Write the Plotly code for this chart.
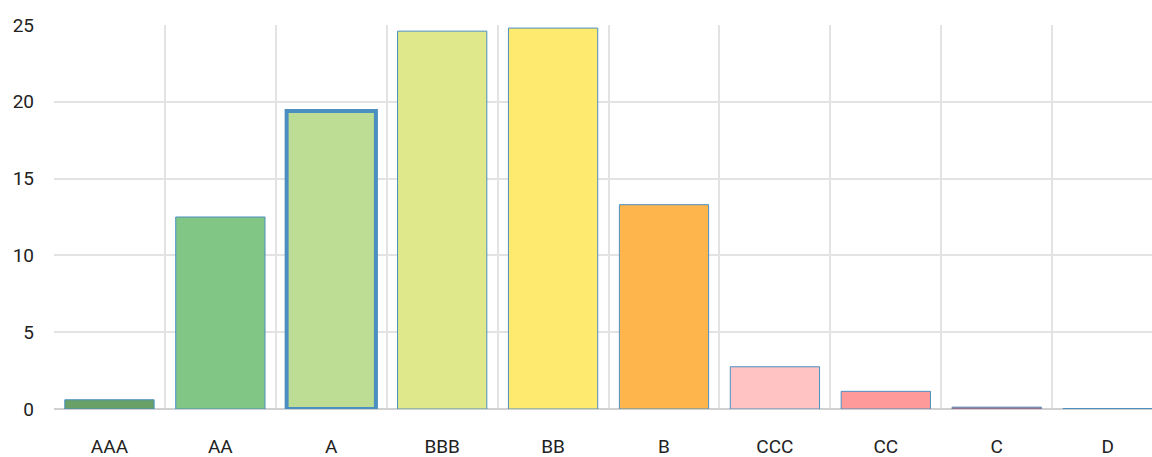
import plotly.graph_objects as go

categories = ["AAA", "AA", "A", "BBB", "BB", "B", "CCC", "CC", "C", "D"]
values = [0.6, 12.5, 19.4, 24.6, 24.8, 13.3, 2.75, 1.15, 0.12, 0.03]
fill_colors = ["#68a068", "#81c684", "#bddd94", "#dfe88b", "#feea6f",
               "#feb54b", "#ffc3c3", "#ff9a9a", "#e0505a", "#4b8fc0"]
line_colors = ["#4b8fc0"] * 10
line_widths = [1, 1, 4, 1, 1, 1, 1, 1, 1, 1]
y_ticks = [0, 5, 10, 15, 20, 25]

font_family = "Roboto, sans-serif"

fig = go.Figure(go.Bar(
    x=categories,
    y=values,
    marker=dict(color=fill_colors, line=dict(color=line_colors, width=line_widths)),
    hoverinfo="x+y",
))

fig.update_layout(
    width=1152, height=457,
    margin=dict(l=54, r=0, t=25, b=48),
    paper_bgcolor="white", plot_bgcolor="white",
    bargap=0.195,
    showlegend=False,
    font=dict(family=font_family, size=19, color="#222222"),
)
fig.update_xaxes(
    type="category",
    range=[-0.5, 9.4],
    tickson="boundaries",
    showgrid=True, gridcolor="#e3e3e3", gridwidth=2,
    ticks="", ticklen=0,
    showline=False,
    automargin=False,
    ticklabelstandoff=24,
    tickfont=dict(family=font_family, size=19, color="#222222"),
)
fig.update_yaxes(
    range=[0, 25],
    tickvals=y_ticks,
    showgrid=True, gridcolor="#e3e3e3", gridwidth=2,
    zeroline=True, zerolinecolor="#d0d0d0", zerolinewidth=2,
    ticks="",
    automargin=False,
    ticklabelstandoff=19,
    tickfont=dict(family=font_family, size=19, color="#222222"),
)

fig.write_html("out.html", config={"displayModeBar": False},
               post_script="document.body.style.margin='0';")
